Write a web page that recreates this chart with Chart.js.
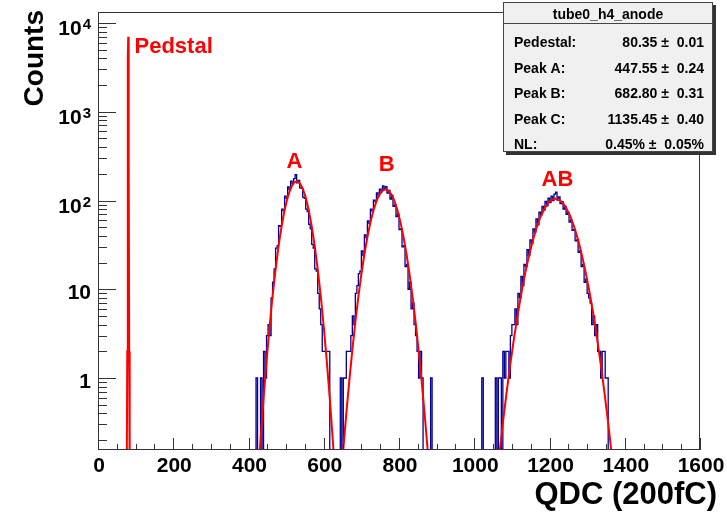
<!DOCTYPE html>
<html><head><meta charset="utf-8">
<script src="https://cdn.jsdelivr.net/npm/chart.js@4/dist/chart.umd.min.js"></script>
<style>html,body{margin:0;padding:0;background:#fff;}</style>
</head><body>
<canvas id="c" width="727" height="514"></canvas>
<script>
// ---------------- data ----------------
const binWidth = 4;
const histA_start = 420;
const histA_counts = [0,1,0,0,1,0,2,1,3,4,3,8,12,17,29,31,52,51,80,77,112,106,142,133,165,154,176,195,158,168,139,137,109,106,80,75,54,48,32,29,17,16,9,6,4,2,2,2,2,2,0,0];
const histB_start = 644;
const histB_counts = [0,1,0,1,1,2,2,2,3,5,4,9,11,15,16,27,24,41,38,59,55,80,76,101,97,122,112,134,126,146,134,143,121,130,104,114,86,89,66,70,47,48,30,31,18,19,10,12,6,7,4,3,2,1,2,1,0,0,0,0,0,1,0];
const histAB_start = 1020;
const histAB_counts = [0,1,0,0,0,0,0,0,0,0,1,0,1,1,0,2,1,2,2,1,3,4,4,6,4,9,8,14,11,19,18,28,24,36,33,48,44,62,53,74,69,86,78,98,87,106,95,112,100,118,124,101,110,92,97,80,86,70,73,57,60,46,47,35,36,26,27,18,19,12,13,9,8,7,4,5,3,4,2,2,1,2,2,1,1,0,0];

const fitPed_x = [76.5, 77.8, 78.8, 79.6, 80.35, 81.1, 81.9, 82.9, 84.2];
const fitPed_y = [0.1, 2, 300, 4000, 7000, 4000, 300, 2, 0.1];
const fitA_start = 424, fitA_step = 8;
const fitA_y = [0.063,0.20,0.59,1.56,3.78,8.4,16.8,30.8,51.5,78.3,108.5,137,157.5,165,157.5,137,108.5,78.3,51.5,30.8,16.8,8.4,3.78,1.56,0.59,0.20,0.063];
const fitB_start = 644, fitB_step = 8;
const fitB_y = [0.058,0.158,0.40,0.94,2.08,4.29,8.25,14.8,24.8,38.8,56.7,77.3,98.3,116.7,129.5,134,129.5,116.7,98.3,77.3,56.7,38.8,24.8,14.8,8.25,4.29,2.08,0.94,0.40,0.158,0.058];
const fitAB_start = 1056, fitAB_step = 10;
const fitAB_y = [0.052,0.13,0.31,0.69,1.45,2.87,5.37,9.44,15.6,24.4,36.0,49.9,65.2,80.3,93.2,101.9,105,101.9,93.2,80.3,65.2,49.9,36.0,24.4,15.6,9.44,5.37,2.87,1.45,0.69,0.31,0.13,0.052];

const xTickValues = [0,200,400,600,800,1000,1200,1400,1600];
const xTickLabels = ['0','200','400','600','800','1000','1200','1400','1600'];
const yTickValues = [1,10,100,1000,10000];
const yTickBase = ['1','10','10','10','10'];
const yTickExp = ['','','2','3','4'];

const xTitle = 'QDC (200fC)';
const yTitle = 'Counts';
const peakLabels = ['Pedstal','A','B','AB'];

const statsTitle = 'tube0_h4_anode';
const statsNames = ['Pedestal:','Peak A:','Peak B:','Peak C:','NL:'];
const statsValues = ['80.35','447.55','682.80','1135.45','0.45%'];
const statsErrors = ['0.01','0.24','0.31','0.40','0.05%'];

// ---------------- build ----------------
const EMPTY_FLOOR = 0.01; // empty bins drop below the axis minimum (clipped), as in ROOT
function stepData(start, counts) {
  const pts = counts.map((c, i) => ({x: start + i * binWidth, y: c > 0 ? c : EMPTY_FLOOR}));
  pts.push({x: start + counts.length * binWidth, y: EMPTY_FLOOR});
  return pts;
}
function curveData(start, step, ys) {
  return ys.map((y, i) => ({x: start + i * step, y: y}));
}
const HIST = '#000099', FIT = '#ff0000';
const FONT = '"Liberation Sans", Arial, Helvetica, sans-serif';

function histDs(start, counts) {
  return {data: stepData(start, counts), borderColor: HIST, borderWidth: 1.3, stepped: 'after',
          pointRadius: 0, fill: false, order: 2, clip: 0};
}
function fitDs(pts) {
  return {data: pts, borderColor: FIT, borderWidth: 2, tension: 0, pointRadius: 0,
          fill: false, order: 1, clip: 0};
}

const rootPlugin = {
  id: 'rootStyle',
  afterDraw(chart) {
    const ctx = chart.ctx, xs = chart.scales.x, ys = chart.scales.y, ca = chart.chartArea;
    ctx.save();
    ctx.strokeStyle = '#333'; ctx.lineWidth = 1;
    ctx.strokeRect(ca.left + 0.5, ca.top + 0.5, ca.right - ca.left - 1, ca.bottom - ca.top - 1);
    ctx.beginPath();
    for (let v = 0; v <= 1600; v += 50) {
      const px = Math.round(xs.getPixelForValue(v)) + 0.5;
      const len = (v % 200 === 0) ? 12 : 6;
      ctx.moveTo(px, ca.bottom); ctx.lineTo(px, ca.bottom - len);
    }
    for (let d = -1; d <= 4; d++) {
      for (let m = 1; m <= 9; m++) {
        const v = m * Math.pow(10, d);
        if (v < ys.min || v > ys.max) continue;
        const py = Math.round(ys.getPixelForValue(v)) + 0.5;
        const len = m === 1 ? 18 : 9;
        ctx.moveTo(ca.left, py); ctx.lineTo(ca.left + len, py);
      }
    }
    ctx.stroke();
    ctx.fillStyle = '#000';
    ctx.font = 'bold 21px ' + FONT;
    ctx.textAlign = 'center'; ctx.textBaseline = 'alphabetic';
    xTickValues.forEach((v, i) => {
      ctx.fillText(xTickLabels[i], xs.getPixelForValue(v) + 1, 472);
    });
    const rx = 91;
    yTickValues.forEach((v, i) => {
      const py = ys.getPixelForValue(v);
      if (yTickExp[i]) {
        ctx.font = 'bold 15px ' + FONT; ctx.textAlign = 'right';
        const ew = ctx.measureText(yTickExp[i]).width;
        ctx.fillText(yTickExp[i], rx, py + 6.5);
        ctx.font = 'bold 21px ' + FONT;
        ctx.fillText(yTickBase[i], rx - ew - 1, py + 12);
      } else {
        ctx.font = 'bold 21px ' + FONT; ctx.textAlign = 'right';
        ctx.fillText(yTickBase[i], rx, py + 10);
      }
    });
    ctx.font = 'bold 31px ' + FONT;
    ctx.textAlign = 'right';
    ctx.fillText(xTitle, 717, 504);
    ctx.save();
    ctx.translate(43, 10); ctx.rotate(-Math.PI / 2);
    ctx.font = 'bold 28px ' + FONT;
    ctx.textAlign = 'right';
    ctx.fillText(yTitle, 0, 0);
    ctx.restore();
    const lab = [[97, 4590, 'left'], [522, 232, 'center'], [767, 215, 'center'], [1221, 146, 'center']];
    ctx.fillStyle = FIT; ctx.font = 'bold 22px ' + FONT;
    peakLabels.forEach((t, i) => {
      ctx.textAlign = lab[i][2];
      ctx.fillText(t, xs.getPixelForValue(lab[i][0]), ys.getPixelForValue(lab[i][1]));
    });
    const bx = 503, by = 2, bw = 210, bh = 150;
    ctx.fillStyle = '#333';
    ctx.fillRect(bx + 3, by + 3, bw, bh);
    ctx.fillStyle = '#f0f0f0';
    ctx.fillRect(bx, by, bw, bh);
    ctx.strokeStyle = '#444';
    ctx.strokeRect(bx + 0.5, by + 0.5, bw - 1, bh - 1);
    ctx.beginPath(); ctx.moveTo(bx, 23.5); ctx.lineTo(bx + bw, 23.5); ctx.stroke();
    ctx.fillStyle = '#000';
    ctx.font = 'bold 14px ' + FONT;
    ctx.textAlign = 'center';
    ctx.fillText(statsTitle, bx + bw / 2, 19);
    const rows = [47, 72.5, 98, 123.5, 149];
    statsNames.forEach((n, i) => {
      ctx.textAlign = 'left';
      ctx.fillText(n, 514, rows[i]);
      ctx.textAlign = 'right';
      ctx.fillText(statsValues[i] + ' \u00b1  ' + statsErrors[i], 704, rows[i]);
    });
    ctx.restore();
  }
};

new Chart(document.getElementById('c'), {
  type: 'line',
  data: {
    datasets: [
      histDs(histA_start, histA_counts),
      histDs(histB_start, histB_counts),
      histDs(histAB_start, histAB_counts),
      fitDs(fitPed_x.map((x, i) => ({x: x, y: fitPed_y[i]}))),
      fitDs(curveData(fitA_start, fitA_step, fitA_y)),
      fitDs(curveData(fitB_start, fitB_step, fitB_y)),
      fitDs(curveData(fitAB_start, fitAB_step, fitAB_y))
    ]
  },
  options: {
    responsive: false,
    animation: false,
    events: [],
    layout: {padding: {left: 98, right: 27, top: 12, bottom: 64}},
    plugins: {legend: {display: false}, tooltip: {enabled: false}},
    scales: {
      x: {type: 'linear', min: 0, max: 1600, display: false},
      y: {type: 'logarithmic', min: 0.1545, max: 13300, display: false}
    }
  },
  plugins: [rootPlugin]
});
</script>
</body></html>
